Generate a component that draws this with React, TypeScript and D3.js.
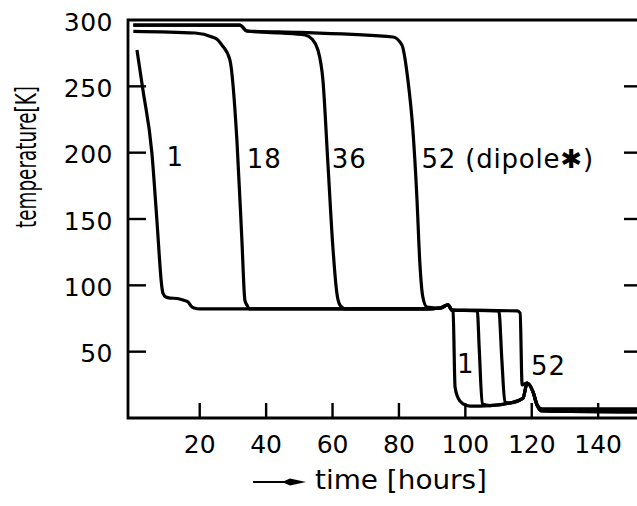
import { useEffect, useRef } from "react";
import * as d3 from "d3";

// [time in hours, temperature in K]
const magnet1: [number, number][] = [
  [1.1, 277.4], [2.9, 247.2], [5.6, 199.7], [7.1, 149.2], [8.6, 98.7], [8.9, 94.2],
  [9.8, 91.2], [11.1, 90.4], [13.2, 90.1], [15.0, 88.9], [16.5, 87.4], [17.4, 84.4],
  [18.3, 82.9], [20.1, 82.2], [88.4, 82.2], [92.4, 82.9], [94.8, 85.2], [95.8, 81.4],
  [96.3, 80.7], [96.9, 23.4], [97.8, 15.1], [99.3, 10.6], [101.4, 9.0], [107.4, 9.4],
  [113.4, 11.3], [117.4, 15.1], [118.6, 26.4], [120.4, 19.6], [121.6, 9.8], [123.1, 5.3],
  [152, 4.5],
];

const magnet18: [number, number][] = [
  [0, 291.5], [18.6, 290.2], [23.7, 287.2], [25.5, 284.9], [26.7, 281.1], [29.1, 269.8],
  [31.2, 209.5], [32.7, 134.2], [33.6, 88.9], [34.2, 85.2], [35.1, 82.2], [88.4, 82.2],
  [92.4, 82.9], [94.8, 85.2], [96.0, 81.4], [103.6, 80.7], [104.2, 51.3], [105.1, 10.6],
  [107.4, 9.4], [113.4, 11.3], [117.4, 15.1], [118.6, 26.4], [120.4, 19.6], [121.6, 9.8],
  [123.1, 5.3], [152, 4.5],
];

const magnet36: [number, number][] = [
  [0, 296.2], [32.1, 296.2], [34.2, 291.7], [44.2, 290.2], [51.7, 288.7], [53.8, 285.7],
  [55.6, 277.4], [57.1, 254.8], [58.6, 192.2], [60.1, 128.9], [61.3, 94.2], [62.2, 85.2],
  [63.7, 82.2], [88.4, 82.2], [92.4, 82.9], [94.8, 85.2], [96.0, 81.4], [110.1, 80.7],
  [111.0, 43.7], [111.9, 12.1], [113.4, 11.3], [117.4, 15.1], [118.6, 26.4], [120.4, 19.6],
  [121.6, 9.8], [123.1, 6.8], [152, 6.8],
];

const magnet52: [number, number][] = [
  [0, 296.2], [32.1, 296.2], [34.2, 291.7], [50.2, 290.6], [78.2, 287.2], [80.9, 281.1],
  [82.7, 254.8], [84.2, 217.1], [85.4, 166.6], [86.3, 116.8], [87.2, 91.2], [88.4, 83.7],
  [92.4, 82.9], [94.8, 85.2], [96.0, 81.4], [115.6, 80.7], [116.5, 79.1], [117.1, 24.9],
  [118.6, 26.4], [120.4, 19.6], [121.6, 9.8], [123.1, 6.8], [152, 6.8],
];

const curves = [magnet1, magnet18, magnet36, magnet52];

const yTicks = [50, 100, 150, 200, 250, 300];
const xTicks = [20, 40, 60, 80, 100, 120, 140];

// curve labels: text, time, temperature (baseline position)
const curveLabels: [string, number, number][] = [
  ["1", 10.0, 190],
  ["18", 34.2, 188.5],
  ["36", 59.8, 188.5],
  ["52 (dipole\u2731)", 86.8, 188.5],
  ["1", 97.5, 34],
  ["52", 119.8, 32.5],
];

const W = 637;
const H = 506;
const FONT = "'DejaVu Sans', sans-serif";

export default function App() {
  const svgRef = useRef<SVGSVGElement>(null);

  useEffect(() => {
    const svg = d3.select(svgRef.current);
    svg.selectAll("*").remove();

    const x = d3.scaleLinear().domain([-1.6, 152]).range([128, 638]);
    const y = d3.scaleLinear().domain([0, 300]).range([418, 20]);
    const left = x(-1.6), right = 640, top = y(300), bottom = y(0);

    // frame
    svg.append("path")
      .attr("d", `M${right},${top}H${left}V${bottom}H${right}`)
      .attr("fill", "none")
      .attr("stroke", "#000")
      .attr("stroke-width", 2.8);

    // inward ticks
    const tickG = svg.append("g").attr("stroke", "#000").attr("stroke-width", 2.4);
    yTicks.filter(d => d < 300).forEach(d => {
      tickG.append("line").attr("x1", left).attr("x2", left + 18).attr("y1", y(d)).attr("y2", y(d));
      tickG.append("line").attr("x1", 624).attr("x2", right).attr("y1", y(d)).attr("y2", y(d));
    });
    xTicks.forEach(d => {
      tickG.append("line").attr("x1", x(d)).attr("x2", x(d)).attr("y1", bottom).attr("y2", bottom - 15);
    });

    // tick labels
    svg.append("g")
      .selectAll("text")
      .data(yTicks)
      .join("text")
      .attr("x", 113)
      .attr("y", d => y(d) + 2)
      .attr("dy", "0.35em")
      .attr("text-anchor", "end")
      .attr("font-family", FONT)
      .attr("font-size", 25)
      .attr("letter-spacing", 0.5)
      .text(d => d);

    svg.append("g")
      .selectAll("text")
      .data(xTicks)
      .join("text")
      .attr("x", d => x(d))
      .attr("y", 453)
      .attr("text-anchor", "middle")
      .attr("font-family", FONT)
      .attr("font-size", 25)
      .text(d => d);

    // curves
    const line = d3.line<[number, number]>()
      .x(d => x(d[0]))
      .y(d => y(d[1]))
      .curve(d3.curveMonotoneX);

    svg.append("g")
      .selectAll("path")
      .data(curves)
      .join("path")
      .attr("d", d => line(d))
      .attr("fill", "none")
      .attr("stroke", "#000")
      .attr("stroke-width", 3.2)
      .attr("stroke-linejoin", "round");

    // curve labels
    svg.append("g")
      .selectAll("text")
      .data(curveLabels)
      .join("text")
      .attr("x", d => x(d[1]))
      .attr("y", d => y(d[2]))
      .attr("font-family", FONT)
      .attr("font-size", 26)
      .attr("letter-spacing", 0.8)
      .text(d => d[0]);

    // axis titles
    svg.append("text")
      .attr("transform", "translate(36,157) rotate(-90)")
      .attr("text-anchor", "middle")
      .attr("font-family", FONT)
      .attr("font-size", 28)
      .attr("textLength", 142)
      .attr("lengthAdjust", "spacingAndGlyphs")
      .text("temperature[K]");

    svg.append("line")
      .attr("x1", 253).attr("x2", 290).attr("y1", 482).attr("y2", 482)
      .attr("stroke", "#000").attr("stroke-width", 2.2);
    svg.append("path")
      .attr("d", "M282,482L290,478.5L306,482L290,485.5Z")
      .attr("fill", "#000");
    svg.append("text")
      .attr("x", 315)
      .attr("y", 489)
      .attr("font-family", FONT)
      .attr("font-size", 26)
      .attr("textLength", 172)
      .attr("lengthAdjust", "spacingAndGlyphs")
      .text("time [hours]");
  }, []);

  return (
    <svg
      ref={svgRef}
      width={W}
      height={H}
      style={{ position: "absolute", left: 0, top: 0, background: "#fff" }}
    />
  );
}
